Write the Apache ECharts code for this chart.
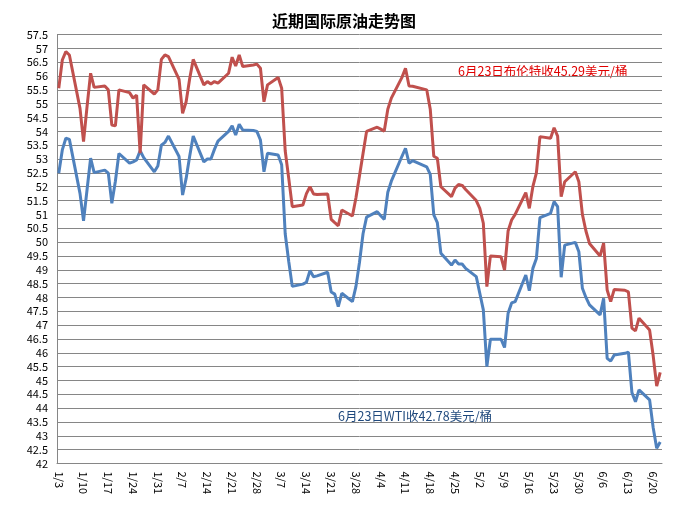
<!DOCTYPE html>
<html><head><meta charset="utf-8">
<script src="https://cdn.jsdelivr.net/npm/echarts@6/dist/echarts.min.js"></script>
<style>html,body{margin:0;padding:0;background:#fff}#c{width:688px;height:507px}</style>
</head><body><div id="c"></div>
<script>
var titleText = "近期国际原油走势图";
var brentNote = "6月23日布伦特收45.29美元/桶";
var wtiNote = "6月23日WTI收42.78美元/桶";
var year = 2017;
var firstDay = "1/3", lastDay = "6/22";
var dates = ["1/3","1/4","1/5","1/6","1/9","1/10","1/11","1/12","1/13","1/16","1/17","1/18","1/19","1/20","1/23","1/24","1/25","1/26","1/27","1/30","1/31","2/1","2/2","2/3","2/6","2/7","2/8","2/9","2/10","2/13","2/14","2/15","2/16","2/17","2/20","2/21","2/22","2/23","2/24","2/27","2/28","3/1","3/2","3/3","3/6","3/7","3/8","3/9","3/10","3/13","3/14","3/15","3/16","3/17","3/20","3/21","3/22","3/23","3/24","3/27","3/28","3/29","3/30","3/31","4/3","4/4","4/5","4/6","4/7","4/10","4/11","4/12","4/13","4/17","4/18","4/19","4/20","4/21","4/24","4/25","4/26","4/27","4/28","5/1","5/2","5/3","5/4","5/5","5/8","5/9","5/10","5/11","5/12","5/15","5/16","5/17","5/18","5/19","5/22","5/23","5/24","5/25","5/26","5/29","5/30","5/31","6/1","6/2","6/5","6/6","6/7","6/8","6/9","6/12","6/13","6/14","6/15","6/16","6/19","6/20","6/21","6/22"];
var brent = [55.56,56.58,56.88,56.76,54.83,53.63,54.9,56.1,55.59,55.64,55.5,54.23,54.2,55.5,55.4,55.2,55.31,53.21,55.68,55.35,55.5,56.6,56.76,56.7,55.88,54.65,55.07,55.9,56.6,55.68,55.8,55.71,55.8,55.74,56.1,56.68,56.36,56.76,56.34,56.4,56.43,56.28,55.07,55.68,55.95,55.56,53.3,52.3,51.28,51.34,51.75,52.0,51.74,51.72,51.74,50.82,50.7,50.59,51.16,50.94,51.6,52.4,53.2,54.0,54.15,54.08,54.01,54.8,55.2,55.95,56.28,55.64,55.63,55.5,54.8,53.1,53.03,52.0,51.64,51.95,52.08,52.05,51.9,51.5,51.22,50.68,48.39,49.5,49.47,48.99,50.4,50.8,51.0,51.79,51.22,52.0,52.5,53.81,53.75,54.13,53.83,51.64,52.18,52.54,52.18,51.0,50.4,49.95,49.5,49.96,48.27,47.85,48.29,48.26,48.2,46.89,46.79,47.25,46.82,45.9,44.8,45.29];
var wti = [52.49,53.33,53.75,53.71,51.76,50.77,51.9,53.03,52.51,52.6,52.49,51.4,52.2,53.2,52.85,52.9,52.97,53.3,53.05,52.54,52.75,53.5,53.6,53.83,53.09,51.7,52.3,53.1,53.83,52.9,53.0,53.0,53.35,53.65,54.0,54.2,53.87,54.26,54.05,54.03,54.0,53.69,52.54,53.21,53.15,52.79,50.3,49.3,48.4,48.48,48.55,48.97,48.75,48.78,48.91,48.2,48.12,47.67,48.15,47.85,48.4,49.27,50.3,50.9,51.1,50.95,50.82,51.8,52.2,53.1,53.39,52.85,52.94,52.72,52.45,50.98,50.7,49.6,49.17,49.35,49.21,49.21,49.05,48.75,48.15,47.55,45.5,46.49,46.49,46.19,47.43,47.8,47.85,48.81,48.24,49.05,49.41,50.88,51.04,51.46,51.28,48.73,49.89,49.99,49.65,48.33,48.0,47.73,47.37,47.97,45.8,45.7,45.92,45.98,46.02,44.56,44.23,44.66,44.3,43.3,42.55,42.78];

// build calendar-day category axis (date axis like the original)
function parseMD(s){var p=s.split("/");return new Date(year,+p[0]-1,+p[1]);}
var cats=[], bMap={}, wMap={};
dates.forEach(function(d,i){bMap[d]=brent[i];wMap[d]=wti[i];});
for(var t=parseMD(firstDay); t<=parseMD(lastDay); t=new Date(t.getFullYear(),t.getMonth(),t.getDate()+1)){
  cats.push((t.getMonth()+1)+"/"+t.getDate());
}
var bData=cats.map(function(c){return c in bMap?bMap[c]:null;});
var wData=cats.map(function(c){return c in wMap?wMap[c]:null;});

var FONT='"Noto Sans CJK SC", "DejaVu Sans", sans-serif';
var chart=echarts.init(document.getElementById('c'),null,{renderer:'canvas'});
chart.setOption({
  animation:false,
  backgroundColor:'#fff',
  title:{text:titleText,left:'center',top:8,textStyle:{fontSize:16,fontWeight:'bold',color:'#000',fontFamily:FONT}},
  grid:{left:57,right:26,top:34.5,bottom:43.5,containLabel:false},
  xAxis:{type:'category',data:cats,boundaryGap:true,
    axisLine:{show:true,lineStyle:{color:'#868686',width:1}},
    axisTick:{show:false},
    axisLabel:{interval:6,rotate:-90,margin:8,fontSize:11,color:'#000',fontFamily:FONT},
    splitLine:{show:false}},
  yAxis:{type:'value',min:42,max:57.5,interval:0.5,
    axisLine:{show:true,lineStyle:{color:'#868686',width:1}},
    axisTick:{show:false},
    axisLabel:{fontSize:11,color:'#000',margin:9,fontFamily:FONT},
    splitLine:{show:true,lineStyle:{color:'#868686',width:1}}},
  series:[
    {name:'WTI',type:'line',data:wData,connectNulls:true,symbol:'none',smooth:false,
     lineStyle:{color:'#4F81BD',width:3},itemStyle:{color:'#4F81BD'}},
    {name:'布伦特',type:'line',data:bData,connectNulls:true,symbol:'none',smooth:false,
     lineStyle:{color:'#C0504D',width:3},itemStyle:{color:'#C0504D'}}
  ],
  graphic:[
    {type:'text',left:458,top:65,style:{text:brentNote,fill:'#E00000',font:'12.5px '+FONT}},
    {type:'text',left:338,top:410,style:{text:wtiNote,fill:'#1F497D',font:'12.5px '+FONT}}
  ]
});
</script></body></html>
